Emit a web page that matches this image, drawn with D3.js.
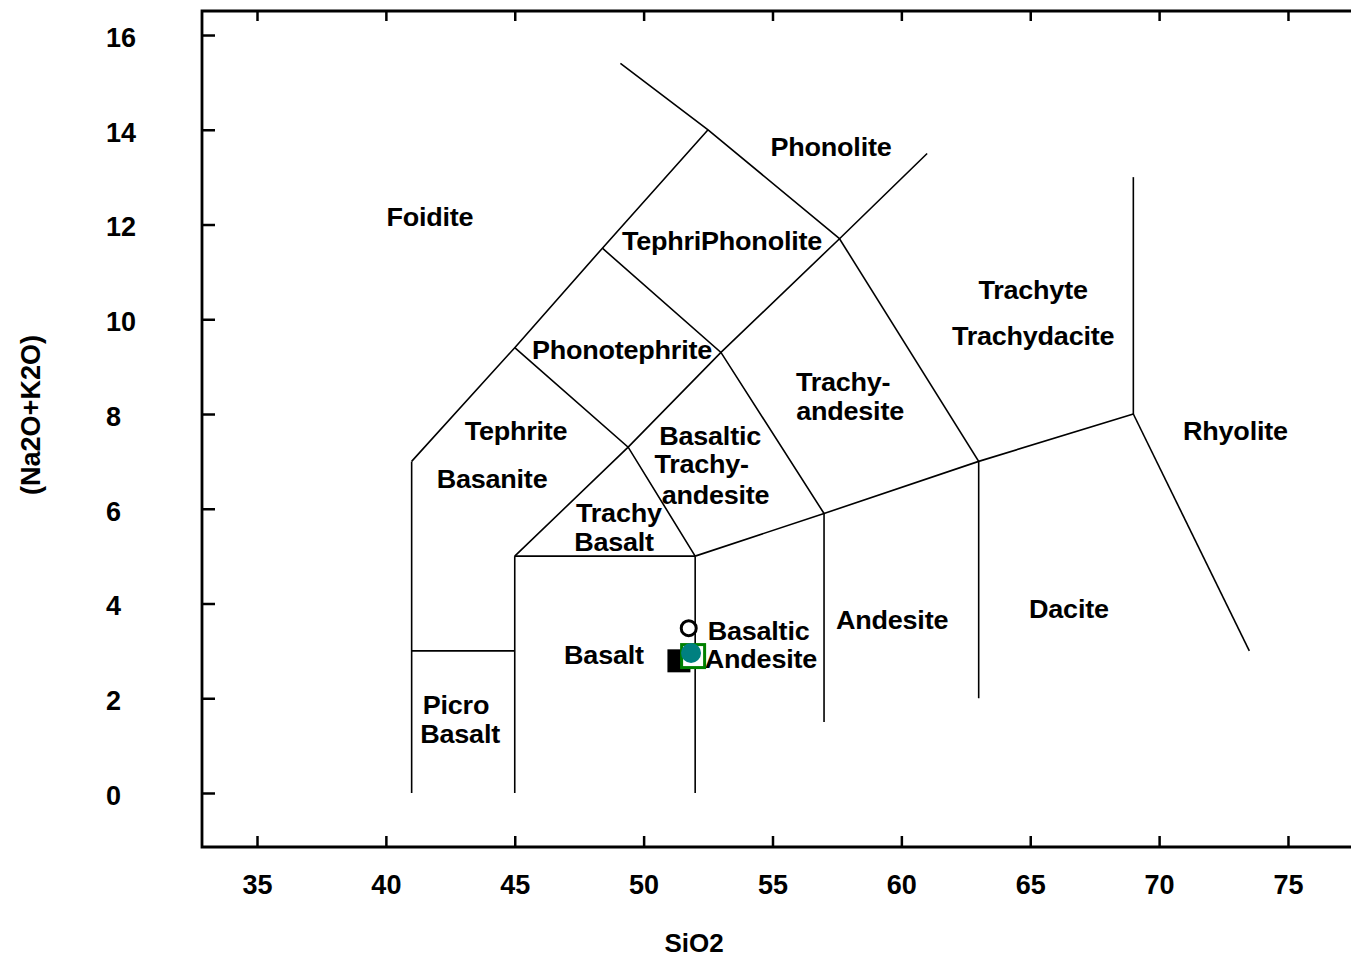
<!DOCTYPE html>
<html>
<head>
<meta charset="utf-8">
<script src="https://cdn.jsdelivr.net/npm/d3@7"></script>
<style>
  html, body { margin: 0; padding: 0; background: #fff; }
  svg { display: block; }
  text { font-family: "Liberation Sans", Arial, sans-serif; font-weight: bold; fill: #000; }
</style>
</head>
<body>
<svg id="chart" width="1351" height="959"></svg>
<script>
// ---- Data ----
const xTicks = [35, 40, 45, 50, 55, 60, 65, 70, 75];
const yTicks = [0, 2, 4, 6, 8, 10, 12, 14, 16];
const xTitle = "SiO2";
const yTitle = "(Na2O+K2O)";

// TAS boundary lines (SiO2, Na2O+K2O)
const picroLine     = [[41, 0], [41, 7]];
const picroTop      = [[41, 3], [45, 3]];
const basaltLeft    = [[45, 0], [45, 5]];
const basaltTop     = [[45, 5], [52, 5]];
const basaltRight   = [[52, 0], [52, 5]];
const leftOuter     = [[41, 7], [45, 9.4], [48.4, 11.5], [52.5, 14]];
const mainDiagonal  = [[45, 5], [49.4, 7.3], [53, 9.3], [57.6, 11.7], [61, 13.5]];
const topLine       = [[49.1, 15.4], [52.5, 14], [57.6, 11.7]];
const tephriteLine  = [[45, 9.4], [49.4, 7.3], [52, 5]];
const phonoTephLine = [[48.4, 11.5], [53, 9.3], [57, 5.9]];
const lowerRight    = [[52, 5], [57, 5.9], [63, 7], [69, 8]];
const trachyteLeft  = [[57.6, 11.7], [63, 7]];
const andesiteRight = [[57, 1.5], [57, 5.9]];
const daciteRight   = [[63, 2], [63, 7]];
const rhyoliteVert  = [[69, 8], [69, 13]];
const rhyoliteDiag  = [[69, 8], [73.5, 3]];
const boundaries = [picroLine, picroTop, basaltLeft, basaltTop, basaltRight, leftOuter,
  mainDiagonal, topLine, tephriteLine, phonoTephLine, lowerRight, trachyteLeft,
  andesiteRight, daciteRight, rhyoliteVert, rhyoliteDiag];

// Field labels: text, x (SiO2), y (alkali) at the label centre
const labelTexts = ["Foidite", "Phonolite", "TephriPhonolite", "Phonotephrite", "Tephrite", "Basanite",
  "Trachy", "Basalt", "Basaltic", "Trachy-", "andesite", "Trachy-", "andesite",
  "Trachyte", "Trachydacite", "Rhyolite", "Dacite", "Andesite", "Basaltic", "Andesite",
  "Basalt", "Picro", "Basalt"];
const labelX = [41.71, 57.27, 53.04, 49.16, 45.05, 44.12,
  49.04, 48.85, 52.58, 52.25, 52.79, 57.74, 58.01,
  65.11, 65.11, 72.96, 66.50, 59.64, 54.46, 54.55,
  48.46, 42.72, 42.88];
const labelY = [12.16, 13.64, 11.65, 9.36, 7.65, 6.63,
  5.90, 5.30, 7.54, 6.94, 6.29, 8.68, 8.06,
  10.62, 9.65, 7.64, 3.88, 3.65, 3.43, 2.82,
  2.92, 1.85, 1.235];

// Sample points
const openCircleX = [51.75], openCircleY = [3.48];
const blackSquareX = [51.37], blackSquareY = [2.79];
const greenSquareX = [51.92], greenSquareY = [2.89];
const tealCircleX = [51.84], tealCircleY = [2.955];

// ---- Layout ----
const svg = d3.select("#chart");
const pLeft = 202, pRight = 1351, pTop = 11, pBottom = 847;
const x = d3.scaleLinear().domain([32.866, 77.445]).range([pLeft, pRight]);
const y = d3.scaleLinear().domain([-1.140, 16.507]).range([pBottom, pTop]);

// Axes
const gx = svg.append("g").attr("transform", `translate(0,${pBottom})`)
  .call(d3.axisBottom(x).tickValues(xTicks).tickSizeInner(-11).tickSizeOuter(0).tickPadding(28).tickFormat(d3.format("d")));
const gxTop = svg.append("g").attr("transform", `translate(0,${pTop})`)
  .call(d3.axisTop(x).tickValues(xTicks).tickSizeInner(-10).tickSizeOuter(0).tickFormat(""));
const gy = svg.append("g").attr("transform", `translate(${pLeft},0)`)
  .call(d3.axisLeft(y).tickValues(yTicks).tickSizeInner(-13).tickSizeOuter(0).tickFormat(d3.format("d")));

[gx, gxTop, gy].forEach(g => {
  g.select(".domain").remove();
  g.selectAll(".tick line").attr("stroke", "#000").attr("stroke-width", 2.5);
});
gx.selectAll(".tick text").attr("font-size", 27).attr("font-weight", "bold")
  .attr("font-family", "Liberation Sans, Arial, sans-serif").attr("fill", "#000");
gy.selectAll(".tick text").attr("font-size", 27).attr("font-weight", "bold")
  .attr("font-family", "Liberation Sans, Arial, sans-serif").attr("fill", "#000")
  .attr("text-anchor", "start").attr("x", 106 - pLeft).attr("dy", "0.42em");

// Frame: top, left, bottom
svg.append("path")
  .attr("d", `M${pRight},${pTop}H${pLeft}V${pBottom}H${pRight}`)
  .attr("fill", "none").attr("stroke", "#000").attr("stroke-width", 2.8);

// Boundaries
const line = d3.line().x(d => x(d[0])).y(d => y(d[1]));
svg.append("g").selectAll("path").data(boundaries).join("path")
  .attr("d", line).attr("fill", "none").attr("stroke", "#000").attr("stroke-width", 1.6);

// Labels
svg.append("g").selectAll("text").data(labelTexts).join("text")
  .attr("transform", (d, i) => `translate(${x(labelX[i])},${y(labelY[i])}) scale(1.08,1)`)
  .attr("text-anchor", "middle")
  .attr("dy", "0.36em")
  .attr("font-size", 25)
  .attr("letter-spacing", -0.2)
  .text(d => d);

// Axis titles
svg.append("text").attr("x", 694).attr("y", 943).attr("text-anchor", "middle")
  .attr("dy", "0.36em").attr("font-size", 26).text(xTitle);
svg.append("text").attr("transform", "translate(30,415) rotate(-90)").attr("text-anchor", "middle")
  .attr("dy", "0.36em").attr("font-size", 27).text(yTitle);

// Points
const sq = 23;
svg.append("g").selectAll("rect").data(blackSquareX).join("rect")
  .attr("x", (d, i) => x(d) - sq / 2).attr("y", (d, i) => y(blackSquareY[i]) - sq / 2)
  .attr("width", sq).attr("height", sq).attr("fill", "#000");
svg.append("g").selectAll("circle").data(openCircleX).join("circle")
  .attr("cx", d => x(d)).attr("cy", (d, i) => y(openCircleY[i])).attr("r", 7.5)
  .attr("fill", "#fff").attr("stroke", "#000").attr("stroke-width", 3);
const gs = 23;
svg.append("g").selectAll("rect").data(greenSquareX).join("rect")
  .attr("x", (d, i) => x(d) - gs / 2).attr("y", (d, i) => y(greenSquareY[i]) - gs / 2)
  .attr("width", gs).attr("height", gs).attr("fill", "#fff")
  .attr("stroke", "#008000").attr("stroke-width", 3);
svg.append("g").selectAll("circle").data(tealCircleX).join("circle")
  .attr("cx", d => x(d)).attr("cy", (d, i) => y(tealCircleY[i])).attr("r", 10)
  .attr("fill", "#008080");
</script>
</body>
</html>
